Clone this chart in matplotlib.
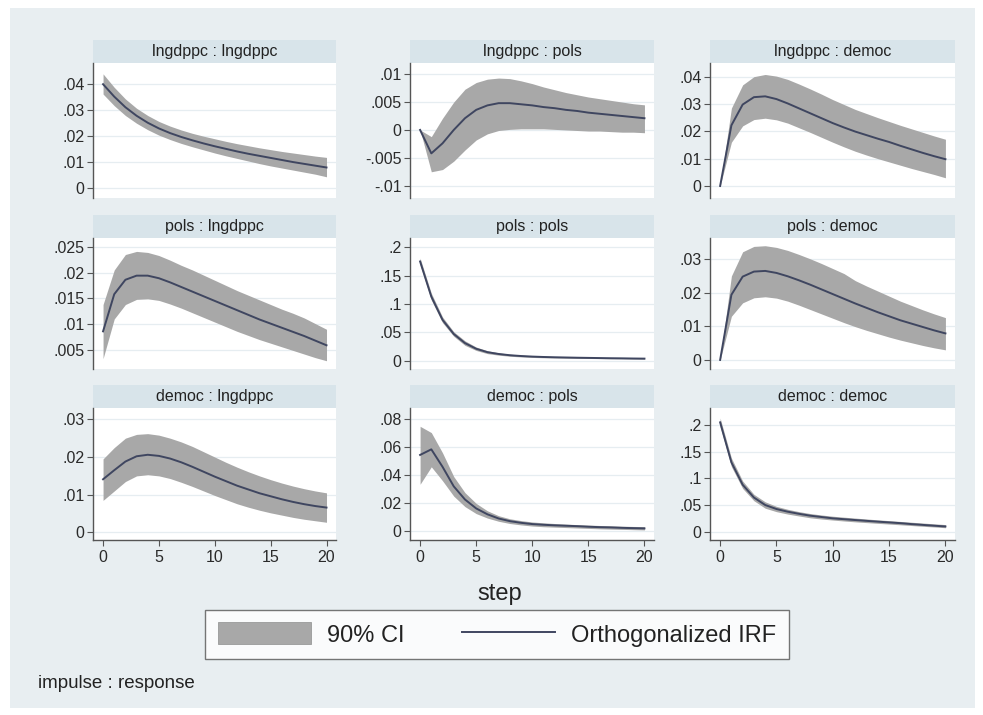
import matplotlib
matplotlib.use("Agg")
import matplotlib.pyplot as plt
from matplotlib.patches import Rectangle, Patch
from matplotlib.lines import Line2D

plt.rcParams['font.family'] = ['Liberation Sans', 'DejaVu Sans']

W, H = 983, 715
steps = list(range(21))

titles = ["lngdppc : lngdppc", "lngdppc : pols", "lngdppc : democ",
          "pols : lngdppc", "pols : pols", "pols : democ",
          "democ : lngdppc", "democ : pols", "democ : democ"]

# ---- data: orthogonalized IRF and 90% CI per panel ----
irf_1 = [.0400, .0352, .0311, .0278, .0251, .0229, .0211, .0196, .0183, .0171, .0160,
         .0150, .0140, .0131, .0123, .0115, .0107, .0099, .0092, .0085, .0078]
up_1 = [.0440, .0388, .0343, .0307, .0279, .0256, .0238, .0223, .0210, .0199, .0189,
        .0179, .0170, .0162, .0154, .0147, .0140, .0134, .0128, .0122, .0117]
lo_1 = [.0362, .0317, .0279, .0249, .0224, .0203, .0186, .0171, .0158, .0146, .0134,
        .0123, .0113, .0103, .0093, .0084, .0076, .0068, .0060, .0052, .0042]

irf_2 = [0.0, -.0042, -.0024, .0000, .0021, .0036, .0044, .0048, .0048, .0046, .0044,
         .0041, .0039, .0036, .0034, .0031, .0029, .0027, .0025, .0023, .0021]
up_2 = [0.0, -.0012, .0021, .0050, .0073, .0085, .0091, .0093, .0092, .0088, .0083,
        .0077, .0072, .0067, .0063, .0059, .0056, .0053, .0050, .0047, .0045]
lo_2 = [0.0, -.0075, -.0071, -.0056, -.0036, -.0018, -.0007, -.0001, .0001, .0002, .0002,
        .0002, .0001, .0000, -.0001, -.0002, -.0002, -.0003, -.0004, -.0004, -.0005]

irf_3 = [0.0, .0222, .0298, .0325, .0328, .0318, .0302, .0284, .0266, .0248, .0230,
         .0214, .0199, .0186, .0173, .0161, .0147, .0134, .0121, .0109, .0098]
up_3 = [0.0, .0285, .0370, .0400, .0408, .0402, .0390, .0373, .0355, .0336, .0316,
        .0298, .0280, .0265, .0250, .0236, .0222, .0209, .0196, .0183, .0171]
lo_3 = [0.0, .0160, .0220, .0243, .0248, .0242, .0230, .0213, .0196, .0178, .0160,
        .0143, .0127, .0113, .0100, .0088, .0076, .0064, .0053, .0042, .0030]

irf_4 = [.0086, .0158, .0186, .0194, .0194, .0189, .0181, .0172, .0163, .0154, .0145,
         .0136, .0127, .0118, .0109, .0101, .0093, .0085, .0077, .0068, .0059]
up_4 = [.0138, .0205, .0235, .0241, .0239, .0233, .0224, .0214, .0205, .0195, .0185,
        .0175, .0165, .0156, .0147, .0138, .0129, .0121, .0112, .0101, .0090]
lo_4 = [.0033, .0110, .0138, .0148, .0149, .0146, .0139, .0131, .0122, .0113, .0104,
        .0095, .0086, .0078, .0070, .0063, .0056, .0049, .0042, .0035, .0029]

irf_5 = [.175, .113, .072, .047, .031, .021, .0150, .0118, .0096, .0082, .0072,
         .0065, .0060, .0056, .0052, .0049, .0046, .0043, .0041, .0038, .0036]
up_5 = [.181, .119, .077, .051, .035, .0240, .0176, .0139, .0114, .0098, .0087,
        .0079, .0073, .0068, .0063, .0059, .0056, .0053, .0050, .0047, .0045]
lo_5 = [.169, .107, .067, .043, .027, .0180, .0124, .0097, .0078, .0066, .0057,
        .0051, .0047, .0044, .0041, .0039, .0036, .0033, .0032, .0029, .0027]

irf_6 = [0.0, .0194, .0248, .0263, .0265, .0259, .0249, .0237, .0224, .0210, .0196,
         .0182, .0168, .0155, .0142, .0130, .0118, .0108, .0098, .0088, .0079]
up_6 = [0.0, .0250, .0322, .0338, .0340, .0335, .0326, .0314, .0301, .0287, .0272,
        .0257, .0236, .0220, .0205, .0190, .0175, .0162, .0149, .0137, .0126]
lo_6 = [0.0, .0130, .0170, .0185, .0188, .0184, .0175, .0163, .0150, .0137, .0124,
        .0111, .0099, .0088, .0078, .0068, .0059, .0051, .0043, .0036, .0030]

irf_7 = [.0141, .0165, .0188, .0202, .0206, .0203, .0196, .0186, .0174, .0161, .0148,
         .0136, .0124, .0114, .0104, .0096, .0088, .0081, .0075, .0070, .0066]
up_7 = [.0195, .0225, .0250, .0260, .0262, .0258, .0250, .0240, .0228, .0214, .0200,
        .0186, .0173, .0161, .0150, .0140, .0131, .0123, .0116, .0110, .0105]
lo_7 = [.0085, .0110, .0135, .0150, .0153, .0150, .0143, .0133, .0122, .0110, .0098,
        .0087, .0076, .0067, .0059, .0052, .0046, .0040, .0035, .0031, .0027]

irf_8 = [.0545, .0585, .0460, .0320, .0226, .0162, .0120, .0090, .0071, .0059, .0050,
         .0045, .0041, .0038, .0035, .0031, .0028, .0026, .0023, .0021, .0019]
up_8 = [.0750, .0705, .0560, .0390, .0275, .0198, .0145, .0110, .0088, .0075, .0065,
        .0059, .0054, .0050, .0046, .0043, .0040, .0038, .0035, .0033, .0032]
lo_8 = [.0335, .0460, .0360, .0250, .0175, .0125, .0093, .0070, .0054, .0044, .0036,
        .0031, .0028, .0025, .0022, .0019, .0016, .0014, .0012, .0010, .0008]

irf_9 = [.205, .130, .088, .064, .050, .0425, .0375, .0335, .0300, .0275, .0250,
         .0234, .0218, .0203, .0188, .0174, .0160, .0142, .0127, .0112, .0098]
up_9 = [.213, .138, .095, .070, .056, .0475, .0420, .0376, .0340, .0313, .0290,
        .0272, .0255, .0238, .0222, .0207, .0192, .0177, .0162, .0147, .0133]
lo_9 = [.197, .122, .081, .058, .044, .0375, .0330, .0294, .0260, .0237, .0218,
        .0200, .0184, .0170, .0156, .0143, .0129, .0115, .0101, .0088, .0074]

irfs = [irf_1, irf_2, irf_3, irf_4, irf_5, irf_6, irf_7, irf_8, irf_9]
uppers = [up_1, up_2, up_3, up_4, up_5, up_6, up_7, up_8, up_9]
lowers = [lo_1, lo_2, lo_3, lo_4, lo_5, lo_6, lo_7, lo_8, lo_9]

yticks = [[0, .01, .02, .03, .04],
          [-.01, -.005, 0, .005, .01],
          [0, .01, .02, .03, .04],
          [.005, .01, .015, .02, .025],
          [0, .05, .1, .15, .2],
          [0, .01, .02, .03],
          [0, .01, .02, .03],
          [0, .02, .04, .06, .08],
          [0, .05, .1, .15, .2]]
ylims = [(-0.0040, 0.0482), (-0.0122, 0.0120), (-0.0044, 0.0450),
         (0.0013, 0.0267), (-0.0147, 0.2164), (-0.0027, 0.0363),
         (-0.0020, 0.0330), (-0.0064, 0.0881), (-0.0156, 0.2319)]
xticks = [0, 5, 10, 15, 20]

def stata_label(v):
    s = f"{v:g}"
    if s.startswith("0."):
        s = s[1:]
    elif s.startswith("-0."):
        s = "-" + s[2:]
    return s

# ---- layout (pixels) ----
cols = [(93, 336), (410, 654), (710, 955)]
rows = [(63, 198), (238, 369), (408, 540)]
strip_h = 23

BG = '#e8eef1'
STRIP = '#d8e4ea'
CI_COL = '#a8a8a8'
LINE_COL = '#3f4660'
AX_COL = '#555555'

fig = plt.figure(figsize=(W / 100, H / 100), dpi=100, facecolor='white')
fig.patches.append(Rectangle((10 / W, 1 - 708 / H), 965 / W, 700 / H,
                             transform=fig.transFigure, facecolor=BG,
                             edgecolor='none', zorder=-10))

for i in range(9):
    r, c = divmod(i, 3)
    l, rr = cols[c]
    t, b = rows[r]
    ax = fig.add_axes([l / W, 1 - b / H, (rr - l) / W, (b - t) / H])
    ax.set_facecolor('white')
    ax.fill_between(steps, lowers[i], uppers[i], color=CI_COL, lw=0, zorder=2)
    ax.plot(steps, irfs[i], color=LINE_COL, lw=1.4, zorder=3)
    ax.set_xlim(-0.9, 20.85)
    ax.set_ylim(*ylims[i])
    ax.set_yticks(yticks[i])
    ax.set_yticklabels([stata_label(v) for v in yticks[i]])
    for v in yticks[i]:
        ax.axhline(v, color='#e6edf1', lw=0.9, zorder=1)
    for s in ['top', 'right']:
        ax.spines[s].set_visible(False)
    ax.spines['left'].set_color(AX_COL)
    ax.spines['left'].set_linewidth(1.0)
    ax.tick_params(axis='y', direction='out', length=4, width=0.8, colors=AX_COL,
                   labelcolor='#2a2a2a', labelsize=11.5, pad=2)
    if r == 2:
        ax.set_xticks(xticks)
        ax.set_xticklabels([str(x) for x in xticks])
        ax.spines['bottom'].set_color(AX_COL)
        ax.spines['bottom'].set_linewidth(1.0)
        ax.tick_params(axis='x', direction='out', length=4, width=0.8, colors=AX_COL,
                       labelcolor='#2a2a2a', labelsize=11.5, pad=3)
    else:
        ax.set_xticks([])
        ax.spines['bottom'].set_visible(False)
    # strip header
    fig.patches.append(Rectangle((l / W, 1 - t / H), (rr - l) / W, strip_h / H,
                                 transform=fig.transFigure, facecolor=STRIP,
                                 edgecolor='none', zorder=-5))
    fig.text((l + rr) / 2 / W, 1 - (t - strip_h / 2) / H, titles[i],
             ha='center', va='center', fontsize=11.5, color='#222222')

fig.text(500 / W, 1 - 594 / H, "step", ha='center', va='center',
         fontsize=17, color='#222222')
fig.text(38 / W, 1 - 683 / H, "impulse : response", ha='left', va='center',
         fontsize=13.5, color='#222222')

handles = [Patch(facecolor=CI_COL, edgecolor='#999999', lw=0.6),
           Line2D([0], [0], color=LINE_COL, lw=1.4)]
leg = fig.legend(handles, ["90% CI", "Orthogonalized IRF"], ncol=2,
                 loc='center', bbox_to_anchor=(497 / W, 1 - 634.5 / H),
                 fontsize=17, frameon=True, fancybox=False, edgecolor='#555555',
                 handlelength=3.95, handleheight=1.05, handletextpad=0.65,
                 columnspacing=2.45, borderpad=0.55, borderaxespad=0)
leg.get_frame().set_linewidth(1.0)
leg.get_frame().set_facecolor('white')
for txt in leg.get_texts():
    txt.set_color('#222222')

fig.savefig("out.png", dpi=100, facecolor='white')
